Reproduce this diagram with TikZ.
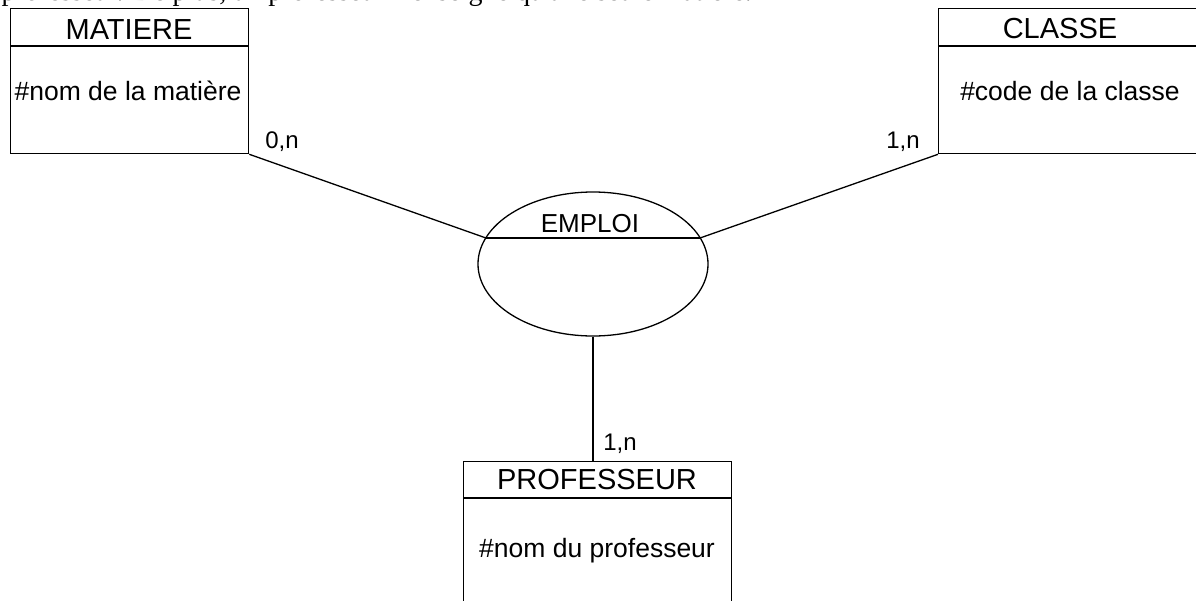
\documentclass[tikz,border=0pt]{standalone}
\usepackage{fontspec}
\setmainfont{Liberation Sans}
\newfontfamily\serifface{Liberation Serif}
\usetikzlibrary{shapes.geometric}
\begin{document}
\begin{tikzpicture}[x=1pt,y=-1pt, line width=1.3pt,
  ent/.style={draw, rectangle, inner sep=0pt, anchor=north west},
  ttl/.style={font=\fontsize{29}{32}\selectfont, anchor=base, inner sep=0pt},
  attr/.style={font=\fontsize{26.5}{30}\selectfont, anchor=base, inner sep=0pt},
  card/.style={font=\fontsize{24}{28}\selectfont, anchor=base, inner sep=0pt},
  asso/.style={draw, ellipse, inner sep=0pt}]
\useasboundingbox (0,0) rectangle (1196,600);
% clipped text line at the top
\node[font=\serifface\fontsize{28}{32}\selectfont, anchor=base west, inner sep=0pt] (toptext) at (1,0.5) {professeur. De plus, un professeur n'enseigne qu'une seule matière.};
% MATIERE
\node[ent, minimum width=238pt, minimum height=145pt] (matiere) at (10,8) {};
\draw (10,46) -- (248,46);
\node[ttl] (matiere-t) at (129,39) {MATIERE};
\node[attr] (matiere-a) at (128,100) {\#nom de la matière};
% CLASSE
\node[ent, minimum width=280pt, minimum height=145pt] (classe) at (938,8) {};
\draw (938,46) -- (1218,46);
\node[ttl] (classe-t) at (1060,38) {CLASSE};
\node[attr] (classe-a) at (1070,100) {\#code de la classe};
% EMPLOI
\node[asso, minimum width=230pt, minimum height=144pt] (emploi) at (593,264) {};
\coordinate (eL) at (486,238);
\coordinate (eR) at (700,238);
\draw (eL) -- (eR);
\node[font=\fontsize{26}{30}\selectfont, anchor=base, inner sep=0pt] (emploi-t) at (590,232) {EMPLOI};
% PROFESSEUR
\node[ent, minimum width=268pt, minimum height=170pt] (prof) at (463,461) {};
\draw (463,498) -- (731,498);
\node[ttl] (prof-t) at (597,489) {PROFESSEUR};
\node[attr] (prof-a) at (597,557) {\#nom du professeur};
% connectors
\draw (matiere.south east) -- (eL);
\draw (classe.south west) -- (eR);
\draw (emploi.south) -- (emploi.south |- prof.north);
% cardinalities
\node[card] (c1) at (282,148) {0,n};
\node[card] (c2) at (903,148) {1,n};
\node[card] (c3) at (620,450) {1,n};
\end{tikzpicture}
\end{document}
